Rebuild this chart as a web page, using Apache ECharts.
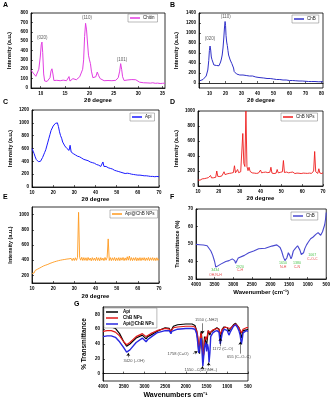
<!DOCTYPE html>
<html>
<head>
<meta charset="utf-8">
<script src="https://cdn.jsdelivr.net/npm/echarts@6/dist/echarts.min.js"></script>
<style>
html,body{margin:0;padding:0;background:#fff;}
#chart{width:333px;height:400px;}
</style>
</head>
<body>
<div id="chart"></div>
<script>
// A - chitin XRD
const chitinTheta = [8,8.3,8.6,9,9.3,9.6,9.9,10.1,10.25,10.4,10.6,10.8,11,11.3,11.6,11.9,12.1,12.3,12.5,12.7,13,13.3,13.6,14,14.3,14.6,15,15.3,15.6,15.8,16,16.3,16.6,16.9,17.3,17.7,18,18.3,18.6,18.8,19,19.2,19.4,19.6,19.8,20,20.2,20.4,20.7,21,21.3,21.6,21.9,22.2,22.6,23,23.4,23.8,24.2,24.6,25,25.4,25.7,25.9,26.2,26.4,26.6,26.8,27.1,27.5,27.9,28.3,28.7,29.1,29.5,29.9,30.3,30.7,31.1,31.5,32,32.5,33,33.5,34,34.5,35,35.5];
const chitinInt = [190,170,150,125,140,200,330,460,490,380,150,75,85,70,88,110,180,205,150,80,70,82,68,78,72,84,86,78,95,122,74,92,100,80,88,100,120,160,200,300,550,690,620,480,350,300,260,180,110,90,120,170,130,100,86,78,92,80,88,78,90,82,95,110,180,260,200,120,80,74,86,80,90,84,88,72,62,58,56,60,54,52,56,50,52,48,50,52];
const chitinPeaks = [[10.3, 540, '(020)'], [19.5, 745, '(110)'], [26.7, 305, '(101)']];

// B - ChB XRD
const chbTheta = [4,5,6,7,8,9,9.6,10,10.4,10.8,11.2,11.6,12,12.4,12.8,13.2,13.6,14,14.5,15,15.5,16,16.5,17,17.5,18,18.5,19,19.4,19.8,20.1,20.4,20.8,21.2,21.6,22,22.5,23,23.5,24,24.5,24.8,25.1,25.5,26,27,28,29,30,31,32,33,34,35,36,37,38,39,40,41,42,44,46,48,50,52,54,56,58,60,62,64,66,68,70,72,74,76,78,80,81];
const chbInt = [45,55,70,90,140,260,450,650,740,660,520,470,500,440,360,330,340,320,350,330,360,345,380,420,480,560,700,900,1100,1230,1150,950,820,750,650,560,520,460,420,390,360,400,300,230,200,180,170,160,150,160,140,150,130,140,130,140,130,120,130,110,110,100,90,90,80,70,70,60,60,50,50,45,40,40,35,30,30,30,25,25,25];
const chbPeaks = [[10.4, 880, '(020)'], [20.2, 1320, '(110)']];

// C, D, E sampled every 0.5 degree from 10 to 70
const gridStart = 10, gridStep = 0.5;
const apiInt = [600,560,520,470,430,410,395,410,400,430,
  460,500,540,580,640,700,760,820,880,900,
  950,920,990,960,1000,940,860,800,760,700,
  680,640,630,600,620,570,650,545,560,520,
  530,500,520,480,490,470,480,450,460,430,
  450,420,430,410,420,390,400,380,390,370,
  380,350,370,340,350,320,340,390,320,300,
  320,290,300,280,290,270,280,250,260,240,
  250,230,240,220,230,210,220,200,210,200,
  215,195,210,190,200,185,195,180,190,175,
  185,170,185,170,180,165,175,160,175,160,
  170,155,165,155,165,150,160,155,165,150,
  160];
const npInt = [80,92,78,88,95,84,98,90,104,96,
  112,102,140,108,118,110,124,116,200,128,
  136,126,144,136,150,190,152,146,162,152,
  168,160,172,166,180,270,176,168,220,178,
  182,190,205,700,300,260,1000,260,205,250,
  195,185,175,192,172,184,168,186,172,180,
  212,176,166,182,170,186,166,178,172,184,
  250,172,178,166,186,172,220,176,166,182,
  176,190,340,180,170,186,210,176,166,182,
  172,186,176,166,182,172,186,170,176,166,
  182,172,186,170,178,168,184,172,180,168,
  178,200,460,190,176,168,230,172,180,166,
  178];
const apiNpInt = [225,250,232,265,248,280,262,295,278,310,
  292,325,302,335,315,345,328,358,335,368,
  345,378,352,386,362,394,368,400,375,406,
  382,410,385,415,390,418,392,424,395,426,
  396,432,398,436,1030,436,400,438,396,434,
  398,432,394,436,400,428,392,434,398,428,
  394,438,396,432,392,434,400,428,394,436,
  400,436,680,396,434,394,432,398,436,392,
  430,396,434,394,432,400,436,394,430,398,
  445,400,455,396,434,394,432,398,436,392,
  430,396,434,394,432,400,434,394,430,398,
  436,394,432,398,434,396,430,394,432,398,
  420];

// F - ChB FTIR
const ftirWn = [4000,3900,3800,3700,3650,3600,3550,3500,3468,3420,3335,3200,3113,3025,2960,2936,2900,2865,2700,2582,2450,2316,2138,1961,1828,1780,1740,1700,1651,1610,1589,1560,1518,1480,1447,1420,1385,1330,1270,1240,1207,1170,1145,1110,1074,1030,985,920,852,780,719,680,650,630,600,542,520,500];
const ftirT = [49.8,49.6,49.4,49,48,46,43.5,40,36.8,36.5,38.5,40,40.5,41.5,40.5,39,40.5,42,43.5,45,46,47.3,47.6,48.8,49.5,49.2,48,46,42.5,40.5,40,42,45,43.5,41.5,43,46,47.5,49,48,46.5,44,43,45,47.5,49.5,51,53,54,55.5,56.5,56,55,55.5,57,61,64,68];
const ftirBandWn = [3480, 2820, 1659, 1287, 875];
const ftirBandNo = ['3434', '2920', '1650', '1380', '1067'];
const ftirBandY = [35.1, 36.8, 39, 39, 43.5];
const ftirGroup = ['OH,N-H', 'C-H', 'N-H', 'C-N', 'C-O-C'];
const ftirGroupY = [32.4, 35.1, 36.8, 36.8, 41.3];

// G - comparison FTIR
const gWn = [4000,3900,3800,3700,3600,3500,3430,3350,3200,3050,2960,2920,2850,2700,2500,2400,2360,2340,2300,2200,2000,1850,1780,1740,1710,1690,1670,1650,1630,1610,1590,1570,1550,1520,1500,1480,1460,1440,1420,1400,1350,1300,1250,1200,1170,1150,1120,1080,1050,1000,960,930,900,850,800,760,720,690,660,640,620,580,540,500];
const gApi = [63,63,63,61,54,43,37,40,48,52,47,50,52,57,62,61,56,60,64,66,67,67,65,58,45,30,27,48,57,45,22,28,50,52,38,48,58,55,52,56,58,60,62,60,48,52,60,63,64,62,57,60,61,66,68,66,62,58,48,52,58,58,59,60];
const gChbNp = [57,58,58,56,51,43,39,42,50,54,50,52,54,58,61,60,57,59,62,63,64,64,63,58,50,38,33,50,55,40,28,25,45,50,46,52,58,57,55,57,59,60,61,60,53,56,60,62,63,62,60,61,62,65,67,65,62,60,55,57,60,61,62,62];
const gApiNp = [50,51,51,49,43,35,29,32,42,48,43,46,49,55,58,58,54,57,59,60,61,61,60,54,40,28,30,42,48,30,10,12,35,42,30,40,35,15,28,50,55,57,58,56,40,46,55,60,61,58,52,56,59,64,66,63,58,52,40,46,55,57,58,57];
const gNotes = [[3250, 17, '3420 (\u2013OH)'], [1500, 72, '1550 (\u2013NH2)'], [2190, 27, '1758 (C=O)'],
  [1640, 5, '1550 \u2013C(=O)NH\u2013)'], [1110, 33, '1172 (C\u2013O)'], [720, 23, '655 (C\u2013O\u2013C)']];
const gArrows = [[3390, 22, 3390, 28], [1595, 68, 1595, 54], [1830, 27, 1720, 30],
  [1600, 7, 1600, 10], [1450, 10, 1450, 15], [1167, 37, 1167, 48], [686, 27, 686, 43]];

// tick labels
const thetaTicksA = [10, 15, 20, 25, 30, 35];
const thetaTicksB = [10, 20, 30, 40, 50, 60, 70, 80];
const thetaTicks = [10, 20, 30, 40, 50, 60, 70];
const wnTicks = [4000, 3500, 3000, 2500, 2000, 1500, 1000, 500];
const intTicksA = [0, 100, 200, 300, 400, 500, 600, 700, 800];
const intTicksB = [0, 200, 400, 600, 800, 1000, 1200, 1400];
const intTicksC = [0, 200, 400, 600, 800, 1000, 1200];
const intTicksD = [0, 200, 400, 600, 800, 1000];
const intTicksE = [200, 400, 600, 800, 1000];
const transTicksF = [30, 40, 50, 60, 70];
const transTicksG = [0, 20, 40, 60, 80];

const zip = (xs, ys) => xs.map((x, i) => [x, ys[i]]);
const onGrid = ys => ys.map((y, i) => [gridStart + i * gridStep, y]);

const FONT = 'Liberation Sans';
const chart = echarts.init(document.getElementById('chart'));

const gridBoxes = [
  { left: 31, top: 13, width: 134, height: 75 },
  { left: 199, top: 13, width: 124, height: 75 },
  { left: 32, top: 110, width: 127, height: 77 },
  { left: 198, top: 111, width: 125, height: 75 },
  { left: 32, top: 207, width: 127, height: 76 },
  { left: 196, top: 209, width: 132, height: 70 },
  { left: 103, top: 307, width: 145, height: 75 },
];

function xAx(i, min, max, ticks, name, opts = {}) {
  return {
    type: 'value', gridIndex: i, min: min, max: max, inverse: !!opts.inverse,
    name: name, nameLocation: 'middle', nameGap: opts.gap || 10,
    nameTextStyle: { fontSize: opts.nameSize || 6, fontWeight: 'bold', color: '#000' },
    axisLine: { show: true, lineStyle: { color: '#000', width: 0.8 } },
    axisTick: { show: true, inside: true, length: 2, customValues: ticks, lineStyle: { color: '#000', width: 0.6 } },
    axisLabel: { customValues: ticks, formatter: v => String(v), fontSize: 4.5, fontWeight: 'bold', color: '#000', margin: 3 },
    splitLine: { show: false }
  };
}
function yAx(i, min, max, ticks, name, opts = {}) {
  return {
    type: 'value', gridIndex: i, min: min, max: max,
    name: name, nameLocation: 'middle', nameGap: opts.gap || 19, nameRotate: 90,
    nameTextStyle: { fontSize: opts.nameSize || 5.5, fontWeight: 'bold', color: '#000' },
    axisLine: { show: true, lineStyle: { color: '#000', width: 0.8 } },
    axisTick: { show: true, inside: true, length: 2, customValues: ticks, lineStyle: { color: '#000', width: 0.6 } },
    axisLabel: { customValues: ticks, formatter: v => String(v), fontSize: 4.5, fontWeight: 'bold', color: '#000', margin: 3 },
    splitLine: { show: false }
  };
}

function curve(name, i, data, color, width) {
  return {
    name: name, type: 'line', xAxisIndex: i, yAxisIndex: i, data: data,
    showSymbol: false, symbol: 'none', lineStyle: { color: color, width: width },
    itemStyle: { color: color }, silent: true
  };
}
function notes(i, data, color, size) {
  return {
    type: 'scatter', xAxisIndex: i, yAxisIndex: i, data: data,
    symbolSize: 1, itemStyle: { color: 'rgba(0,0,0,0)' }, silent: true,
    label: { show: true, position: 'inside', formatter: p => p.data[2], fontSize: size, color: color }
  };
}
function legendBox(names, left, top, vertical) {
  return {
    data: names, left: left, top: top, orient: vertical ? 'vertical' : 'horizontal',
    icon: 'rect', itemWidth: 10, itemHeight: 1.5, itemGap: 1,
    padding: [1.5, 3, 1.5, 2], borderColor: '#777', borderWidth: 0.5, backgroundColor: '#fff',
    textStyle: { fontSize: 4.5, color: '#222', padding: [0, 0, 0, -2] }, selectedMode: false
  };
}

const letters = [['A', 3, 2], ['B', 170, 2], ['C', 3, 99], ['D', 170, 99], ['E', 3, 194], ['F', 170, 194], ['G', 74, 301]];

const option = {
  animation: false,
  backgroundColor: '#fff',
  textStyle: { fontFamily: FONT },
  grid: gridBoxes.map(g => Object.assign({ show: true, borderColor: '#000', borderWidth: 0.8, backgroundColor: 'transparent' }, g)),
  xAxis: [
    xAx(0, 8, 35.5, thetaTicksA, '2\u03b8 degree', { gap: 9 }),
    xAx(1, 3.5, 81, thetaTicksB, '2\u03b8 degree', { gap: 9 }),
    xAx(2, 10, 70, thetaTicks, '2\u03b8 degree', { gap: 9 }),
    xAx(3, 10, 70, thetaTicks, '2\u03b8 degree', { gap: 9 }),
    xAx(4, 10, 70, thetaTicks, '2\u03b8 degree', { gap: 10 }),
    xAx(5, 500, 4000, wnTicks, 'Wavenumber (cm\u207b\u00b9)', { gap: 10, inverse: true }),
    xAx(6, 500, 4000, wnTicks, 'Wavenumbers cm\u207b\u00b9', { gap: 11, inverse: true, nameSize: 7 })
  ],
  yAxis: [
    yAx(0, 0, 800, intTicksA, 'Intensity (a.u.)'),
    yAx(1, -100, 1400, intTicksB, 'Intensity (a.u.)', { gap: 20 }),
    yAx(2, 0, 1200, intTicksC, 'Intensity (a.u.)'),
    yAx(3, 0, 1000, intTicksD, 'Intensity (a.u.)'),
    yAx(4, 100, 1100, intTicksE, 'Intensity (a.u.)'),
    yAx(5, 30, 70, transTicksF, 'Transmittance (%)', { gap: 16 }),
    yAx(6, -10, 90, transTicksG, '% Transmittance', { gap: 15, nameSize: 6.5 })
  ],
  legend: [
    legendBox(['Chitin'], 128, 14),
    legendBox(['ChB'], 292, 15),
    legendBox(['Api'], 130, 113),
    legendBox(['ChB NPs'], 281, 113),
    legendBox(['Api@ChB NPs'], 110, 210),
    legendBox(['ChB\u200b'], 291, 212),
    Object.assign(legendBox(['Api\u200b', 'ChB NPs\u200b', 'Api@ChB NPs\u200b'], 104, 308, true),
      { itemWidth: 12, textStyle: { fontSize: 4.5, fontWeight: 'bold', color: '#000' } })
  ],
  graphic: letters.map(l => ({
    type: 'text', left: l[1], top: l[2],
    style: { text: l[0], font: 'bold 7px ' + FONT, fill: '#000' }
  })),
  series: [
    curve('Chitin', 0, zip(chitinTheta, chitinInt), '#e23ee2', 1),
    notes(0, chitinPeaks, '#333', 4.5),
    curve('ChB', 1, zip(chbTheta, chbInt), '#3030c8', 1),
    notes(1, chbPeaks, '#333', 4.5),
    curve('Api', 2, onGrid(apiInt), '#1a1aff', 1),
    curve('ChB NPs', 3, onGrid(npInt), '#ee1c1c', 0.9),
    curve('Api@ChB NPs', 4, onGrid(apiNpInt), '#ff9a1e', 0.9),
    curve('ChB\u200b', 5, zip(ftirWn, ftirT), '#4848d0', 1.1),
    notes(5, ftirBandWn.map((w, i) => [w, ftirBandY[i], ftirBandNo[i]]), '#22b522', 3.6),
    notes(5, ftirBandWn.map((w, i) => [w, ftirGroupY[i], ftirGroup[i]]), '#e02020', 3.6),
    curve('Api\u200b', 6, zip(gWn, gApi), '#000000', 1.2),
    curve('ChB NPs\u200b', 6, zip(gWn, gChbNp), '#e01818', 1.2),
    curve('Api@ChB NPs\u200b', 6, zip(gWn, gApiNp), '#2828e0', 1.4),
    Object.assign(notes(6, gNotes, '#111', 4), {
      markLine: {
        silent: true, symbol: ['none', 'arrow'], symbolSize: 3,
        lineStyle: { color: '#000', width: 0.5, type: 'solid' },
        label: { show: false },
        data: gArrows.map(a => [{ coord: [a[0], a[1]] }, { coord: [a[2], a[3]] }])
      }
    })
  ]
};
chart.setOption(option);
</script>
</body>
</html>
